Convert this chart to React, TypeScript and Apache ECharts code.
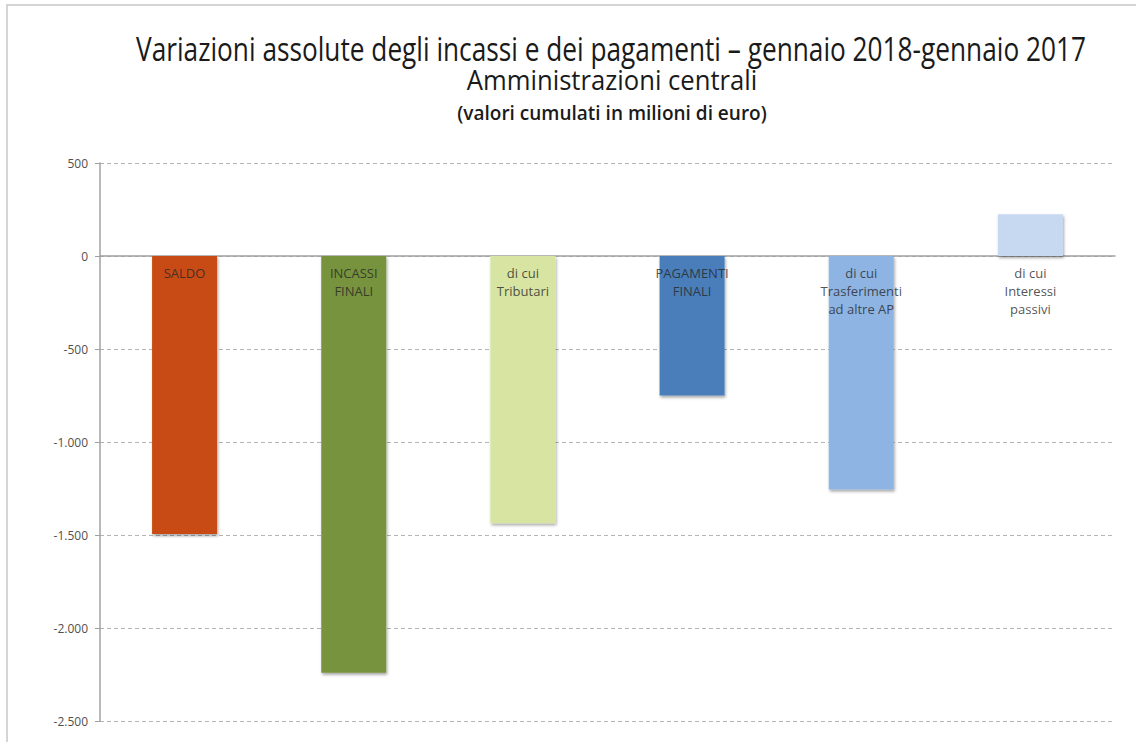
import React, { useEffect, useRef } from "react";
import * as echarts from "echarts";

const categories = [
  "SALDO",
  "INCASSI\nFINALI",
  "di cui\nTributari",
  "PAGAMENTI\nFINALI",
  "di cui\nTrasferimenti\nad altre AP",
  "di cui\nInteressi\npassivi",
];
const values = [-1495, -2241, -1437, -750, -1255, 225];
const barColors = ["#C84B12", "#77933C", "#D7E4A2", "#4A7EBB", "#8EB4E3", "#C6D9F1"];
const yTicks = { min: -2500, max: 500, interval: 500 };
const titleLines = [
  "Variazioni assolute degli incassi e dei pagamenti \u2013 gennaio 2018-gennaio 2017",
  "Amministrazioni centrali",
  "(valori cumulati in milioni di euro)",
];

const fmt = (v: number) => {
  const s = Math.abs(v).toString().replace(/\B(?=(\d{3})+(?!\d))/g, ".");
  return (v < 0 ? "-" : "") + s;
};

export default function App() {
  const ref = useRef<HTMLDivElement>(null);
  useEffect(() => {
    if (!ref.current) return;
    const chart = echarts.init(ref.current, undefined, { renderer: "svg" });
    const font = "'Open Sans', sans-serif";
    chart.setOption({
      animation: false,
      backgroundColor: "#ffffff",
      graphic: [
        {
          type: "rect",
          shape: { x: 7, y: 5, width: 1150, height: 760 },
          style: { fill: "none", stroke: "#c8c8c8", lineWidth: 1.5 },
          silent: true,
        },
        {
          type: "text",
          x: 611,
          y: 49,
          scaleX: 0.82,
          style: {
            text: titleLines[0],
            font: `32px ${font}`,
            fill: "#1a1a1a",
            textAlign: "center",
            textVerticalAlign: "middle",
          },
        },
        {
          type: "text",
          x: 612,
          y: 80,
          scaleX: 0.95,
          style: {
            text: titleLines[1],
            font: `27px ${font}`,
            fill: "#1a1a1a",
            textAlign: "center",
            textVerticalAlign: "middle",
          },
        },
        {
          type: "text",
          x: 612,
          y: 113,
          scaleX: 1.0,
          style: {
            text: titleLines[2],
            font: `600 19px ${font}`,
            fill: "#1a1a1a",
            textAlign: "center",
            textVerticalAlign: "middle",
          },
        },
      ],
      grid: { left: 100, right: 21, top: 163, bottom: 21, containLabel: false, outerBoundsMode: "none" },
      xAxis: {
        type: "category",
        data: categories,
        axisLine: { onZero: true, lineStyle: { color: "#a0a0a0", width: 1.5 } },
        axisTick: { show: false },
        axisLabel: { show: false },
        splitLine: { show: false },
      },
      yAxis: {
        type: "value",
        min: yTicks.min,
        max: yTicks.max,
        interval: yTicks.interval,
        axisLine: { show: true, lineStyle: { color: "#a0a0a0", width: 1.5 } },
        axisTick: { show: true, length: 5, lineStyle: { color: "#a0a0a0" } },
        axisLabel: {
          color: "#505050",
          fontFamily: font,
          fontSize: 12,
          margin: 12,
          formatter: (v: number) => fmt(v),
        },
        splitLine: {
          show: true,
          lineStyle: { color: "#b4b4b4", type: [4, 3], width: 1.2 },
        },
      },
      series: [
        {
          type: "bar",
          barWidth: 65,
          data: values.map((v, i) => ({
            value: v,
            itemStyle: { color: barColors[i] },
          })),
          itemStyle: {
            shadowColor: "rgba(0,0,0,0.35)",
            shadowBlur: 3,
            shadowOffsetX: 1,
            shadowOffsetY: 2,
          },
        },
        {
          type: "scatter",
          z: 10,
          symbolSize: 0,
          silent: true,
          data: categories.map((c) => [c, 0]),
          label: {
            show: true,
            position: "bottom",
            distance: 8,
            formatter: (p: any) => p.name || p.value[0],
            color: "#262626",
            fontFamily: font,
            fontSize: 13,
            lineHeight: 18,
            align: "center",
          },
        },
      ],
    });
    return () => chart.dispose();
  }, []);
  return (
    <div
      ref={ref}
      style={{ position: "fixed", left: 0, top: 0, width: 1136, height: 742 }}
    />
  );
}
